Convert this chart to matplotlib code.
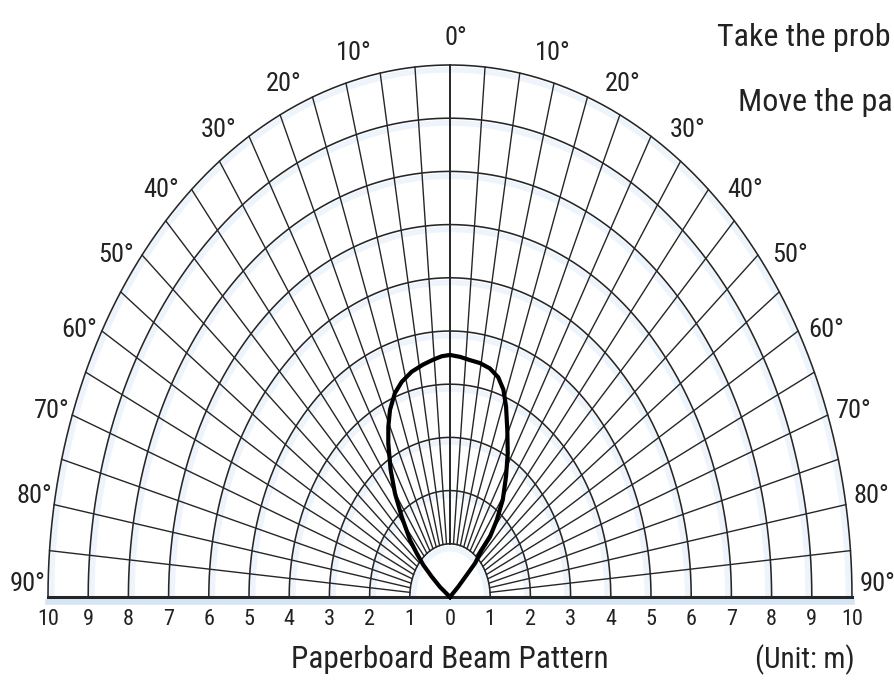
import numpy as np
import matplotlib.pyplot as plt
from matplotlib import font_manager

# Beam pattern: angle from the axis (deg) and distance (m)
beam_angle = [-54, -52.9, -50.0, -47.8, -45.2, -42.9, -38.5, -35.1, -31.7, -28.0,
              -25.6, -23.0, -19.7, -16.5, -12.7, -8.7, -5.4, -2.6, 0.0, 3.2,
              6.4, 9.6, 13.0, 16.2, 18.8, 21.3, 24.4, 28.0, 31.6, 35.7,
              38.8, 41.3, 41.8, 44.5, 45.1, 46.7, 46]
beam_dist = [0.0, 0.31, 0.59, 0.90, 1.17, 1.46, 1.93, 2.38, 2.81, 3.27,
             3.55, 3.82, 4.07, 4.22, 4.34, 4.42, 4.48, 4.53, 4.55, 4.52,
             4.48, 4.46, 4.41, 4.30, 4.12, 3.84, 3.45, 3.06, 2.66, 2.25,
             1.86, 1.51, 1.18, 0.89, 0.59, 0.28, 0.0]

rings = [1, 2, 3, 4, 5, 6, 7, 8, 9, 10]
spokes = np.arange(-85, 90, 5)
angle_labels = [0, 10, 20, 30, 40, 50, 60, 70, 80, 90]
dist_ticks = [10, 9, 8, 7, 6, 5, 4, 3, 2, 1, 0, 1, 2, 3, 4, 5, 6, 7, 8, 9, 10]

# narrow font if there is one, else Lato
names = {f.name for f in font_manager.fontManager.ttflist}
narrow = [n for n in ["Liberation Sans Narrow", "Noto Sans Condensed",
                      "Roboto Condensed", "Open Sans Condensed",
                      "DejaVu Sans Condensed"] if n in names]
if narrow:
    fam, k = narrow[0], 1.0
else:
    fam, k = "Lato", 0.86
plt.rcParams['font.family'] = [fam, 'DejaVu Sans']
plt.rcParams['font.stretch'] = 'condensed'

fig = plt.figure(figsize=(8.95, 6.86), dpi=100)
ax = fig.add_axes([0, 0, 1, 1])
ax.set_xlim(-450 / 40.2, 445 / 40.2)
ax.set_ylim(-89 / 53.2, 597 / 53.2)
ax.axis("off")

grid_col = "#262626"
glow_col = "#eef4fb"
txt_col = "#222222"

# rings (with faint blue shading under each)
t = np.radians(np.linspace(-90, 90, 400))
for r in rings:
    ax.plot((r - 0.09) * np.sin(t), (r - 0.09) * np.cos(t), color=glow_col, lw=4, zorder=1)
    ax.plot(r * np.sin(t), r * np.cos(t), color=grid_col, lw=1.15, zorder=2)

# spokes from the inner ring to the outer ring
for a in spokes:
    s = np.radians(a)
    lw = 1.4 if a == 0 else 1.0
    ax.plot([np.sin(s), 10 * np.sin(s)], [np.cos(s), 10 * np.cos(s)],
            color=grid_col, lw=lw, zorder=2)

# baseline
ax.plot([-10, 10], [-0.09, -0.09], color="#d5e4f4", lw=4, zorder=1)
ax.plot([-10, 10], [0, 0], color=grid_col, lw=2.2, zorder=3)

# beam pattern
b = np.radians(beam_angle)
d = np.array(beam_dist)
ax.plot(d * np.sin(b), d * np.cos(b), color="black", lw=3.0,
        solid_joinstyle="round", zorder=4)

# angle labels
for lab in angle_labels:
    off = 3.2 - max(0, lab - 40) * 0.09 if lab > 0 else 0
    for side in ([1] if lab == 0 else [-1, 1]):
        a = np.radians(side * (lab + off))
        x = 10.5 * np.sin(a) + (0.15 if side >= 0 else 0.0)
        ax.text(x, 10.5 * np.cos(a), f"{lab}°", ha="center", va="center",
                fontsize=19 * k, color=txt_col)

# distance labels along the baseline
for i, v in enumerate(dist_ticks):
    ax.text(i - 10, -0.43, str(v), ha="center", va="center", fontsize=16 * k,
            color=txt_col)

ax.text(0, -1.18, "Paperboard Beam Pattern", ha="center", va="center",
        fontsize=22.5 * k, color=txt_col)
ax.text(8.83, -1.18, "(Unit: m)", ha="center", va="center", fontsize=21 * k,
        color=txt_col)

# notes at top right, running off the edge in the original
ax.text(6.64, 10.51, "Take the prob", ha="left", va="center", fontsize=23 * k,
        color=txt_col)
ax.text(7.16, 9.30, "Move the pa", ha="left", va="center", fontsize=23 * k,
        color=txt_col)

fig.savefig("out.png", dpi=100)
